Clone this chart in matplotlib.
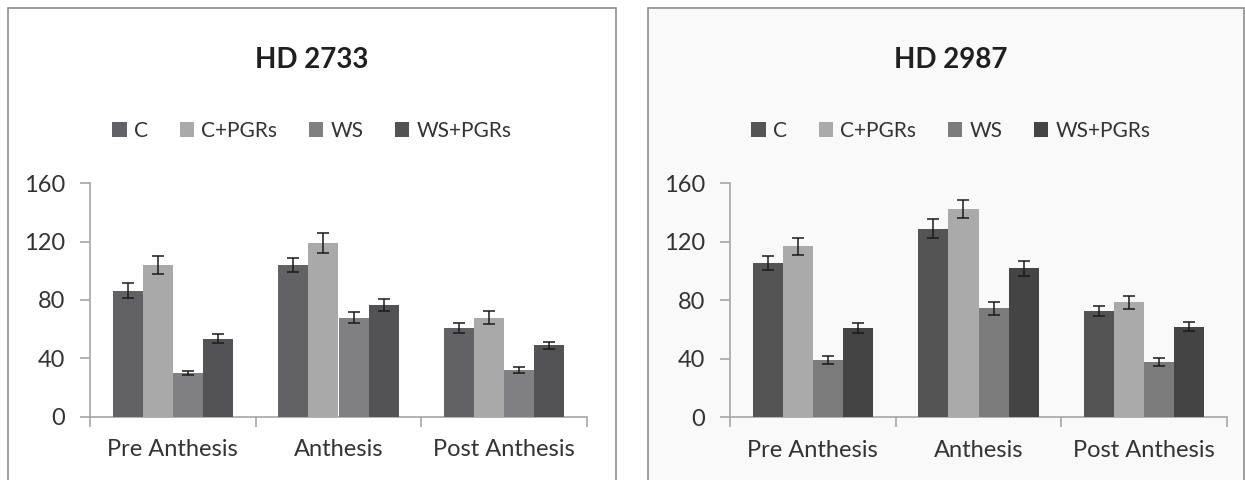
import numpy as np
import matplotlib
matplotlib.use("Agg")
import matplotlib.pyplot as plt
from matplotlib.patches import Rectangle

plt.rcParams['font.family'] = ['Lato', 'DejaVu Sans']

# Data
stages = ['Pre Anthesis', 'Anthesis', 'Post Anthesis']
treatments = ['C', 'C+PGRs', 'WS', 'WS+PGRs']

hd2733 = {
    'C':       [86.5, 104, 61],
    'C+PGRs':  [104, 119, 68],
    'WS':      [30, 68, 32],
    'WS+PGRs': [53.5, 76.5, 49],
}
hd2733_err = {
    'C':       [5, 5, 3.4],
    'C+PGRs':  [6, 7, 4.3],
    'WS':      [1.5, 3.5, 2],
    'WS+PGRs': [3, 4.3, 2.5],
}
hd2987 = {
    'C':       [105.5, 129, 72.5],
    'C+PGRs':  [117, 142.5, 78.5],
    'WS':      [39, 74.5, 38],
    'WS+PGRs': [61, 102, 62],
}
hd2987_err = {
    'C':       [5, 6.5, 3.5],
    'C+PGRs':  [5.7, 6.4, 4.6],
    'WS':      [2.8, 4.6, 2.6],
    'WS+PGRs': [3.4, 5.2, 3.2],
}

colors_left = ['#626265', '#a9a9aa', '#808082', '#535356']
colors_right = ['#545454', '#aaaaaa', '#7b7b7b', '#444444']

W, H = 1245, 480
fig = plt.figure(figsize=(W / 100, H / 100), dpi=100)


def px_box(x0, y0, x1, y1):
    # pixel box (top-left origin) -> figure fraction rect
    return [x0 / W, 1 - y1 / H, (x1 - x0) / W, (y1 - y0) / H]


# panel frames
fig.patches.append(Rectangle((8 / W, -0.05), (616 - 8) / W, 1.05 - 8 / H,
                             transform=fig.transFigure, facecolor='white',
                             edgecolor='#8e8e8e', lw=1.2, zorder=-5))
fig.patches.append(Rectangle((648 / W, -0.05), (1244 - 648) / W, 1.05 - 8 / H,
                             transform=fig.transFigure, facecolor='#f9f9f9',
                             edgecolor='#8e8e8e', lw=1.2, zorder=-5))


def draw_panel(ax, data, err, colors, title, tx, bg):
    x = np.arange(len(stages))
    bw = 0.182
    for i, t in enumerate(treatments):
        ax.bar(x + (i - 1.5) * bw, data[t], width=bw, color=colors[i],
               yerr=err[t], capsize=4,
               error_kw=dict(ecolor='#1a1a1a', elinewidth=1.1, capthick=1.1),
               label=t, zorder=3)
    ax.set_facecolor(bg)
    ax.set_xlim(-0.5, 2.5)
    ax.set_ylim(0, 160)
    ax.set_yticks([0, 40, 80, 120, 160])
    ax.set_xticks(x)
    ax.set_xticklabels(stages)
    ax.set_xticks([-0.5, 0.5, 1.5, 2.5], minor=True)
    ax.tick_params(axis='x', which='major', length=0, pad=16,
                   labelsize=17, labelcolor='#333333')
    ax.tick_params(axis='x', which='minor', length=7, color='#a6a6a6',
                   width=1.2, direction='out')
    ax.tick_params(axis='y', length=7, color='#a6a6a6', width=1.2,
                   pad=11, labelsize=17, labelcolor='#333333')
    for s in ['top', 'right']:
        ax.spines[s].set_visible(False)
    for s in ['left', 'bottom']:
        ax.spines[s].set_color('#a6a6a6')
        ax.spines[s].set_linewidth(1.2)
    fig.text(tx / W, 1 - 60 / H, title, ha='center', va='center',
             fontsize=20, fontweight='bold', color='#1f1f1f')
    ax.legend(loc='center', bbox_to_anchor=(tx / W, 1 - 131 / H),
              bbox_transform=fig.transFigure, ncol=4, frameon=False,
              fontsize=15, handlelength=0.7, handleheight=0.7,
              handletextpad=0.35, columnspacing=1.5, labelcolor='#333333')


ax1 = fig.add_axes(px_box(90, 183.3, 587, 416.7))
draw_panel(ax1, hd2733, hd2733_err, colors_left, 'HD 2733', 312, 'white')

ax2 = fig.add_axes(px_box(730, 183.3, 1227, 417.3))
draw_panel(ax2, hd2987, hd2987_err, colors_right, 'HD 2987', 951, '#f9f9f9')

fig.savefig('out.png', dpi=100)
